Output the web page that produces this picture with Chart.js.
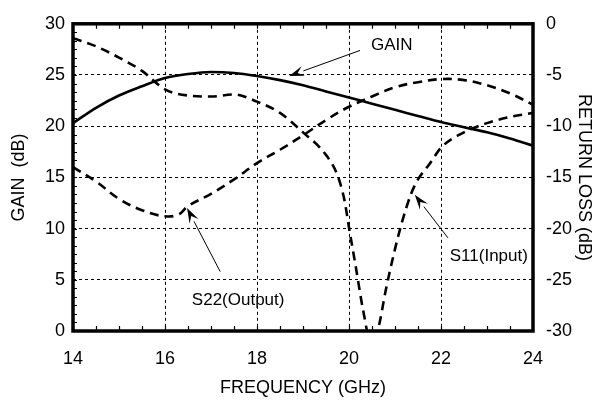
<html>
<head>
<meta charset="utf-8">
<script src="https://cdn.jsdelivr.net/npm/chart.js@4.4.1/dist/chart.umd.min.js"></script>
<style>
  body { margin:0; background:#fff; }
  #wrap { width:600px; height:402px; }
</style>
</head>
<body>
<div id="wrap"><canvas id="chart1"></canvas></div>
<script>
// values
var freqGain = [14, 14.5, 15, 15.5, 16, 16.5, 17, 17.5, 18, 18.5, 19, 19.5, 20, 20.5, 21, 21.5, 22, 22.5, 23, 23.5, 24];
var gain     = [20.3, 21.8, 23.0, 23.9, 24.7, 25.1, 25.3, 25.2, 24.9, 24.5, 24.0, 23.4, 22.8, 22.2, 21.6, 21.0, 20.4, 19.9, 19.4, 18.8, 18.1];

var freqS11 = [14, 14.5, 15, 15.5, 16, 16.5, 17, 17.5, 18, 18.5, 19, 19.5, 19.75, 19.9, 20, 20.15, 20.3, 20.5, 20.65, 20.8, 21, 21.15, 21.35, 21.5, 21.75, 22, 22.5, 23, 23.5, 24];
var s11     = [-1.4, -2.2, -3.3, -4.6, -6.4, -7.0, -7.1, -6.9, -7.6, -8.7, -10.6, -12.8, -14.8, -17.2, -19.9, -23.8, -27.8, -31.5, -29.5, -26.0, -22.0, -19.4, -16.6, -15.2, -13.7, -12.1, -10.6, -9.7, -9.1, -8.7];

var freqS22 = [14, 14.5, 15, 15.5, 16, 16.3, 16.5, 17, 17.5, 18, 18.5, 19, 19.5, 20, 20.5, 21, 21.5, 22, 22.5, 23, 23.5, 24];
var s22     = [-14.0, -15.4, -17.1, -18.2, -18.8, -18.6, -17.8, -16.6, -15.2, -13.6, -12.3, -10.9, -9.4, -8.1, -7.1, -6.2, -5.7, -5.4, -5.5, -6.0, -6.8, -7.9];

var gainTicks = [0, 5, 10, 15, 20, 25, 30];
var rlTicks   = [-30, -25, -20, -15, -10, -5, 0];

// labels with arrows: text position, arrow tail, arrow tip (gain axis units)
var notes = [
  { text: "GAIN",        tx: 20.93, ty: 27.9, x0: 20.24, y0: 27.4, x1: 18.7,  y1: 24.9 },
  { text: "S22(Output)", tx: 17.59, ty: 3.0,  x0: 17.2,  y0: 5.8,  x1: 16.48, y1: 12.0 },
  { text: "S11(Input)",  tx: 23.04, ty: 7.3,  x0: 22.15, y0: 9.1,  x1: 21.43, y1: 13.3 }
];

function pts(xs, ys) {
  var a = [];
  for (var i = 0; i < xs.length; i++) a.push({x: xs[i], y: ys[i]});
  return a;
}

var FONT = "'Liberation Sans', Arial, Helvetica, sans-serif";

var framePlugin = {
  id: 'frame',
  afterDatasetsDraw: function(chart) {
    var c = chart.ctx, a = chart.chartArea;
    var xs = chart.scales.x, ys = chart.scales.yGain;
    c.save();
    c.strokeStyle = '#000';
    // minor ticks
    c.lineWidth = 1.2;
    c.beginPath();
    for (var v = 14.5; v < 24; v += 0.5) {
      var px = Math.round(xs.getPixelForValue(v)) + 0.5;
      c.moveTo(px, a.bottom); c.lineTo(px, a.bottom - 5);
      c.moveTo(px, a.top); c.lineTo(px, a.top + 5);
    }
    for (var k = 1; k < 36; k++) {
      var py = Math.round(ys.getPixelForValue(k * 5 / 6)) + 0.5;
      c.moveTo(a.left, py); c.lineTo(a.left + 4, py);
    }
    c.stroke();
    // frame
    c.lineWidth = 3.5;
    c.strokeRect(a.left, a.top, a.right - a.left, a.bottom - a.top);

    // annotations
    c.fillStyle = '#000';
    c.font = '17px ' + FONT;
    c.textAlign = 'center';
    c.textBaseline = 'middle';
    notes.forEach(function(n) {
      var x0 = xs.getPixelForValue(n.x0), y0 = ys.getPixelForValue(n.y0);
      var x1 = xs.getPixelForValue(n.x1), y1 = ys.getPixelForValue(n.y1);
      var ang = Math.atan2(y1 - y0, x1 - x0);
      var L = 15, W = 5;
      var bx = x1 - L * Math.cos(ang), by = y1 - L * Math.sin(ang);
      c.lineWidth = 1;
      c.beginPath(); c.moveTo(x0, y0); c.lineTo(bx, by); c.stroke();
      c.beginPath();
      c.moveTo(x1, y1);
      c.lineTo(bx + W * Math.sin(ang), by - W * Math.cos(ang));
      c.lineTo(x1 - 0.6 * L * Math.cos(ang), y1 - 0.6 * L * Math.sin(ang));
      c.lineTo(bx - W * Math.sin(ang), by + W * Math.cos(ang));
      c.closePath(); c.fill();
      c.fillText(n.text, xs.getPixelForValue(n.tx), ys.getPixelForValue(n.ty));
    });
    c.restore();
  }
};

new Chart(document.getElementById('chart1'), {
  type: 'line',
  data: {
    datasets: [
      { label: 'GAIN', data: pts(freqGain, gain), yAxisID: 'yGain',
        borderColor: '#000', borderWidth: 2.6, pointRadius: 0, cubicInterpolationMode: 'monotone', fill: false },
      { label: 'S11', data: pts(freqS11, s11), yAxisID: 'yRL',
        borderColor: '#000', borderWidth: 2.6, borderDash: [9, 6], pointRadius: 0, cubicInterpolationMode: 'monotone', fill: false },
      { label: 'S22', data: pts(freqS22, s22), yAxisID: 'yRL',
        borderColor: '#000', borderWidth: 2.6, borderDash: [9, 6], pointRadius: 0, tension: 0.4, fill: false }
    ]
  },
  options: {
    responsive: true,
    maintainAspectRatio: false,
    animation: false,
    layout: { padding: { top: 15, left: 0, right: 0, bottom: 0 } },
    plugins: { legend: { display: false }, tooltip: { enabled: false } },
    scales: {
      x: {
        type: 'linear', min: 14, max: 24,
        afterFit: function(s) { s.height = 71; },
        ticks: { stepSize: 2, padding: 17, color: '#000', font: { family: FONT, size: 18 } },
        grid: {
          drawTicks: false, lineWidth: 1,
          color: function(ctx) { return (ctx.tick && (ctx.tick.value == 14 || ctx.tick.value == 24)) ? 'rgba(0,0,0,0)' : '#000'; }
        },
        border: { display: false, dash: [3, 3] },
        title: { display: true, text: 'FREQUENCY (GHz)', color: '#000', padding: { top: 0, bottom: 3 }, font: { family: FONT, size: 18 } }
      },
      yGain: {
        type: 'linear', position: 'left', min: 0, max: 30,
        afterFit: function(s) { s.width = 73; },
        afterBuildTicks: function(s) { s.ticks = gainTicks.map(function(v) { return {value: v}; }); },
        ticks: { padding: 8, color: '#000', font: { family: FONT, size: 18 } },
        grid: {
          drawTicks: false, lineWidth: 1,
          color: function(ctx) { return (ctx.tick && (ctx.tick.value == 0 || ctx.tick.value == 30)) ? 'rgba(0,0,0,0)' : '#000'; }
        },
        border: { display: false, dash: [3, 3] },
        title: { display: true, text: 'GAIN  (dB)', color: '#000', padding: { top: 8, bottom: 0 }, font: { family: FONT, size: 18 } }
      },
      yRL: {
        type: 'linear', position: 'right', min: -30, max: 0,
        afterFit: function(s) { s.width = 67; },
        afterBuildTicks: function(s) { s.ticks = rlTicks.map(function(v) { return {value: v}; }); },
        ticks: { padding: 13, color: '#000', font: { family: FONT, size: 18 } },
        grid: { display: false, drawTicks: false },
        border: { display: false },
        title: { display: true, text: 'RETURN LOSS (dB)', color: '#000', padding: { top: 5, bottom: 0 }, font: { family: FONT, size: 18 } }
      }
    }
  },
  plugins: [framePlugin]
});
</script>
</body>
</html>
